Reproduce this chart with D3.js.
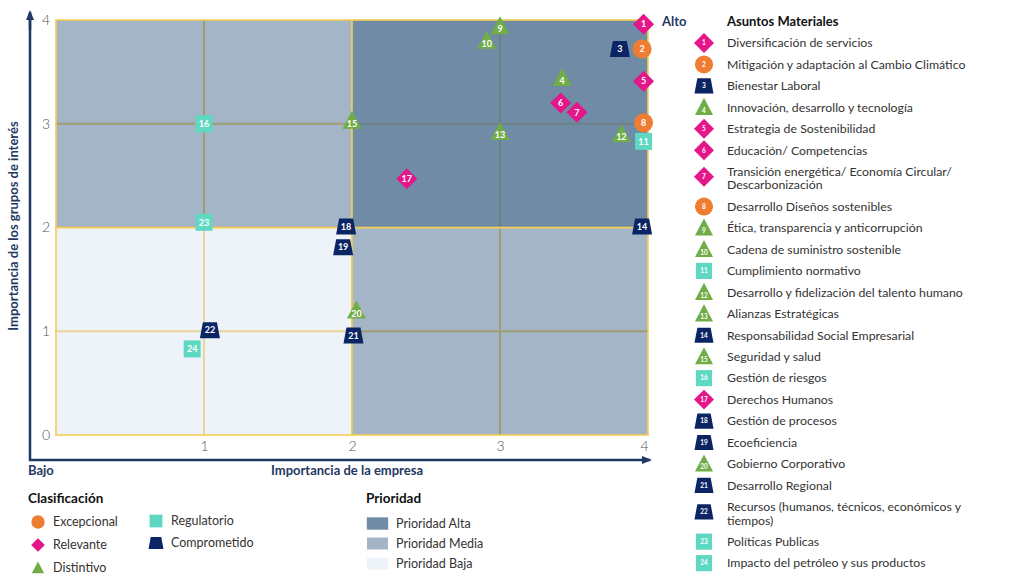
<!DOCTYPE html>
<html>
<head>
<meta charset="utf-8">
<script src="https://cdn.jsdelivr.net/npm/d3@7"></script>
<style>
    body { margin: 0; background: #fff; }
    svg { font-family: Lato, "Open Sans", sans-serif; }
</style>
</head>
<body>
<svg id="chart" width="1024" height="582"></svg>
<script>
// asuntos materiales
let ids = [1, 2, 3, 4, 5, 6, 7, 8, 9, 10, 11, 12, 13, 14, 15, 16, 17, 18, 19, 20, 21, 22, 23, 24];
let names = [
    "Diversificación de servicios",
    "Mitigación y adaptación al Cambio Climático",
    "Bienestar Laboral",
    "Innovación, desarrollo y tecnología",
    "Estrategia de Sostenibilidad",
    "Educación/ Competencias",
    "Transición energética/ Economía Circular/\nDescarbonización",
    "Desarrollo Diseños sostenibles",
    "Ética, transparencia y anticorrupción",
    "Cadena de suministro sostenible",
    "Cumplimiento normativo",
    "Desarrollo y fidelización del talento humano",
    "Alianzas Estratégicas",
    "Responsabilidad Social Empresarial",
    "Seguridad y salud",
    "Gestión de riesgos",
    "Derechos Humanos",
    "Gestión de procesos",
    "Ecoeficiencia",
    "Gobierno Corporativo",
    "Desarrollo Regional",
    "Recursos (humanos, técnicos, económicos y\ntiempos)",
    "Políticas Publicas",
    "Impacto del petróleo y sus productos"
];
let clases = ["Relevante", "Excepcional", "Comprometido", "Distintivo", "Relevante", "Relevante",
    "Relevante", "Excepcional", "Distintivo", "Distintivo", "Regulatorio", "Distintivo",
    "Distintivo", "Comprometido", "Distintivo", "Regulatorio", "Relevante", "Comprometido",
    "Comprometido", "Distintivo", "Comprometido", "Comprometido", "Regulatorio", "Regulatorio"];
let empresa = [3.97, 3.96, 3.81, 3.42, 3.97, 3.41, 3.52, 3.97, 3.0, 2.91, 3.97, 3.82,
    3.0, 3.96, 2.0, 1.0, 2.37, 1.96, 1.94, 2.03, 2.01, 1.04, 1.0, 0.92];
let interes = [3.96, 3.72, 3.72, 3.44, 3.41, 3.2, 3.11, 3.01, 3.94, 3.8, 2.83, 2.9,
    2.92, 2.01, 3.03, 3.0, 2.47, 2.01, 1.81, 1.2, 0.96, 1.01, 2.05, 0.83];

let tickValuesX = [1, 2, 3, 4];
let tickValuesY = [0, 1, 2, 3, 4];

let clasificaciones = ["Excepcional", "Relevante", "Distintivo", "Regulatorio", "Comprometido"];
let colores = ["#ee7d31", "#e5158a", "#70ad47", "#5fd8c2", "#0b2463"];

let prioridades = ["Prioridad Alta", "Prioridad Media", "Prioridad Baja"];
// [x0, x1, y0, y1, prioridad]
let cuadrantes = [
    [0, 2, 0, 2, "Prioridad Baja"],
    [0, 2, 2, 4, "Prioridad Media"],
    [2, 4, 0, 2, "Prioridad Media"],
    [2, 4, 2, 4, "Prioridad Alta"]
];

let navy = "#1f3864";
let yellow = "#f3cd55";

let svg = d3.select("#chart");

let x = d3.scaleLinear().domain([0, 4]).range([56, 648]);
let y = d3.scaleLinear().domain([0, 4]).range([435, 20]);

let color = d3.scaleOrdinal().domain(clasificaciones).range(colores);
let fillPrioridad = d3.scaleOrdinal().domain(prioridades).range(["#4b6e90", "#4b6e90", "#d6e2f4"]);
let opPrioridad = d3.scaleOrdinal().domain(prioridades).range([0.8, 0.51, 0.42]);

// marker shapes, centered at 0,0
function shapePath(c, s) {
    s = s || 1;
    if (c === "Relevante") return `M0,${-10.5*s}L${10.5*s},0L0,${10.5*s}L${-10.5*s},0Z`;
    if (c === "Distintivo") return `M0,${-10*s}L${9.5*s},${8*s}L${-9.5*s},${8*s}Z`;
    if (c === "Regulatorio") return `M${-8.5*s},${-8.5*s}H${8.5*s}V${8.5*s}H${-8.5*s}Z`;
    if (c === "Comprometido") return `M${-7*s},${-8*s}L${7*s},${-8*s}L${10*s},${8*s}L${-10*s},${8*s}Z`;
    return d3.arc()({innerRadius: 0, outerRadius: 9.5*s, startAngle: 0, endAngle: 2*Math.PI});
}

function drawMarker(g, c, n, s, fs) {
    g.append("path")
        .attr("d", shapePath(c, s))
        .attr("fill", color(c));
    if (n !== null) {
        g.append("text")
            .attr("y", c === "Distintivo" ? 3 * s : 0)
            .attr("dy", "0.36em")
            .attr("text-anchor", "middle")
            .attr("fill", "#fff")
            .attr("font-weight", "bold")
            .attr("font-size", fs)
            .text(n);
    }
}

// grid lines (drawn under the translucent quadrants)
let grid = svg.append("g");
grid.selectAll("line.gx").data([1, 3]).enter().append("line")
    .attr("x1", d => x(d)).attr("x2", d => x(d))
    .attr("y1", y(0)).attr("y2", y(4))
    .attr("stroke", yellow).attr("stroke-width", 2);
grid.selectAll("line.gy").data([1, 3]).enter().append("line")
    .attr("x1", x(0)).attr("x2", x(4))
    .attr("y1", d => y(d)).attr("y2", d => y(d))
    .attr("stroke", yellow).attr("stroke-width", 2);

svg.append("g").selectAll("rect").data(cuadrantes).enter().append("rect")
    .attr("x", d => x(d[0]))
    .attr("y", d => y(d[3]))
    .attr("width", d => x(d[1]) - x(d[0]))
    .attr("height", d => y(d[2]) - y(d[3]))
    .attr("fill", d => fillPrioridad(d[4]))
    .attr("fill-opacity", d => opPrioridad(d[4]))
    .attr("stroke", yellow)
    .attr("stroke-width", 1.6);

// tick labels
let axX = svg.append("g")
    .attr("transform", `translate(0,${y(0)})`)
    .call(d3.axisBottom(x).tickValues(tickValuesX).tickSize(0).tickPadding(6).tickFormat(d3.format("d")));
let axY = svg.append("g")
    .attr("transform", `translate(${x(0)},0)`)
    .call(d3.axisLeft(y).tickValues(tickValuesY).tickSize(0).tickPadding(6).tickFormat(d3.format("d")));
[axX, axY].forEach(a => {
    a.select(".domain").remove();
    a.selectAll("text").attr("font-size", 14).attr("fill", "#555").attr("font-family", "Lato").attr("font-weight", 300);
});
axX.selectAll(".tick").filter(d => d === 4).select("text").attr("x", -4);

// axis arrows
svg.append("defs").append("marker")
    .attr("id", "arrow")
    .attr("viewBox", "0 0 10 10")
    .attr("refX", 8).attr("refY", 5)
    .attr("markerWidth", 4).attr("markerHeight", 4)
    .attr("orient", "auto")
    .append("path").attr("d", "M0,1L10,5L0,9Z").attr("fill", navy);

svg.append("path")
    .attr("d", "M30,14V460H650")
    .attr("fill", "none")
    .attr("stroke", navy)
    .attr("stroke-width", 2.5)
    .attr("marker-end", "url(#arrow)");
svg.append("path")
    .attr("d", "M30,30V12")
    .attr("fill", "none")
    .attr("stroke", navy)
    .attr("stroke-width", 2.5)
    .attr("marker-end", "url(#arrow)");

// axis titles
let axisText = (tx, ty, t, anchor) => svg.append("text")
    .attr("x", tx).attr("y", ty)
    .attr("dy", "0.35em")
    .attr("text-anchor", anchor)
    .attr("fill", navy)
    .attr("font-weight", "bold")
    .attr("font-size", 13)
    .text(t);
axisText(28, 470, "Bajo", "start");
axisText(662, 21, "Alto", "start");
axisText(347, 470, "Importancia de la empresa", "middle");
axisText(0, 0, "Importancia de los grupos de interés", "middle")
    .attr("transform", "translate(13,226) rotate(-90)");

// puntos
let puntos = svg.append("g").selectAll("g").data(ids).enter().append("g")
    .attr("transform", (d, i) => `translate(${x(empresa[i])},${y(interes[i])})`);
puntos.each(function (d, i) {
    drawMarker(d3.select(this), clases[i], d, 1, 9);
});

// leyenda asuntos materiales
let leg = svg.append("g");
leg.append("text")
    .attr("x", 727).attr("y", 21).attr("dy", "0.35em")
    .attr("font-weight", "bold").attr("font-size", 13).attr("fill", "#111")
    .text("Asuntos Materiales");

let rowY = 43;
ids.forEach((id, i) => {
    let lines = names[i].split("\n");
    let row = leg.append("g");
    let my = rowY + (lines.length - 1) * 5;
    drawMarker(row.append("g").attr("transform", `translate(704,${my})`), clases[i], id, 0.95, 6.5);
    let t = row.append("text")
        .attr("font-size", 12.3).attr("fill", "#333");
    lines.forEach((l, k) => {
        t.append("tspan").attr("x", 727).attr("y", rowY + k * 13.4).attr("dy", "0.35em").text(l);
    });
    rowY += 21.45 + (lines.length - 1) * 13.4;
});

// leyenda clasificacion
let cl = svg.append("g");
cl.append("text")
    .attr("x", 28).attr("y", 498).attr("dy", "0.35em")
    .attr("font-weight", "bold").attr("font-size", 13.5).attr("fill", "#111")
    .text("Clasificación");
let clPos = [[38, 522], [38, 545], [38, 568], [156, 521], [156, 543]];
clasificaciones.forEach((c, i) => {
    let g = cl.append("g").attr("transform", `translate(${clPos[i][0]},${clPos[i][1]})`);
    let s = c === "Excepcional" ? 0.7 : (c === "Regulatorio" ? 0.75 : (c === "Comprometido" ? 0.75 : 0.65));
    drawMarker(g, c, null, s, 0);
    g.append("text")
        .attr("x", 15).attr("dy", "0.35em")
        .attr("font-size", 12.5).attr("fill", "#333")
        .text(c);
});

// leyenda prioridad
let pr = svg.append("g");
pr.append("text")
    .attr("x", 366).attr("y", 498).attr("dy", "0.35em")
    .attr("font-weight", "bold").attr("font-size", 13.5).attr("fill", "#111")
    .text("Prioridad");
prioridades.forEach((p, i) => {
    let py = 523.5 + i * 20;
    pr.append("rect")
        .attr("x", 367).attr("y", py - 6).attr("width", 21).attr("height", 12)
        .attr("fill", fillPrioridad(p)).attr("fill-opacity", opPrioridad(p))
        .attr("stroke", i === 0 ? "#8a9bb0" : "none")
        .attr("stroke-dasharray", "1,1");
    pr.append("text")
        .attr("x", 396).attr("y", py).attr("dy", "0.35em")
        .attr("font-size", 12.5).attr("fill", "#333")
        .text(p);
});
</script>
</body>
</html>
